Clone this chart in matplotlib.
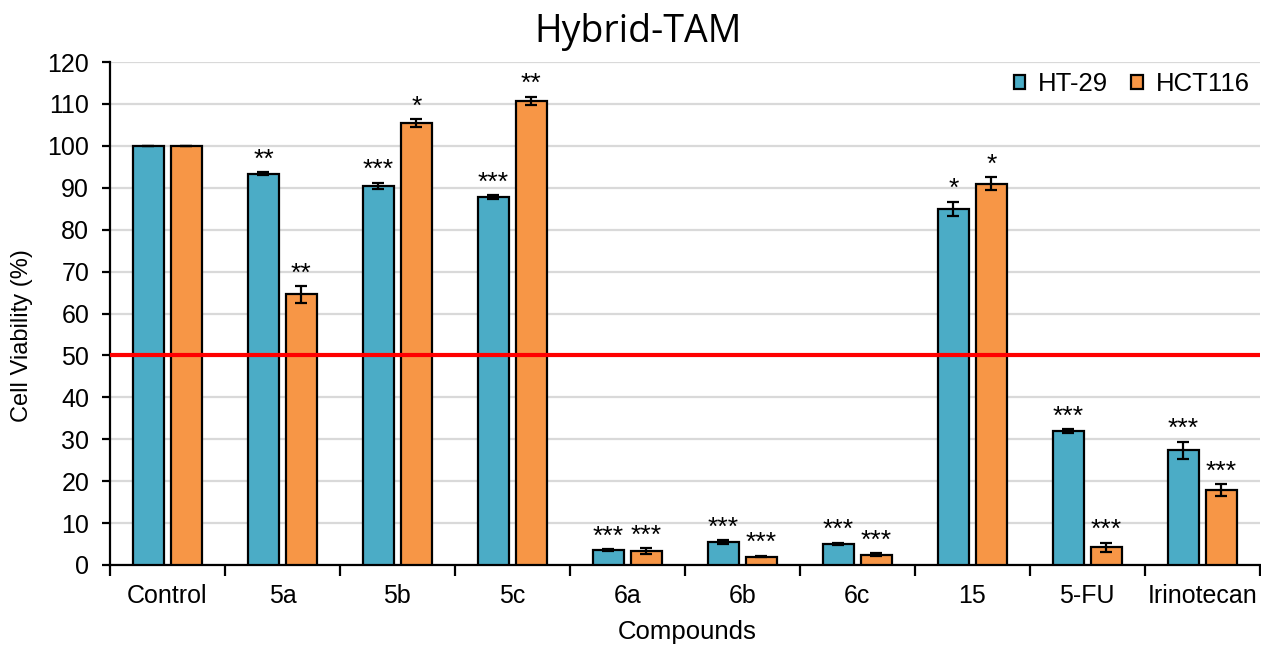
import matplotlib
matplotlib.use("Agg")
import matplotlib.pyplot as plt
import numpy as np

categories = ["Control", "5a", "5b", "5c", "6a", "6b", "6c", "15", "5-FU", "Irinotecan"]
ht29 = [100.0, 93.4, 90.5, 87.7, 3.6, 5.5, 5.0, 85.0, 31.9, 27.4]
ht29_err = [0.0, 0.3, 0.7, 0.5, 0.2, 0.4, 0.3, 1.7, 0.5, 2.0]
hct116 = [100.0, 64.6, 105.5, 110.7, 3.3, 2.0, 2.5, 91.0, 4.2, 17.9]
hct116_err = [0.0, 2.0, 0.9, 1.0, 0.7, 0.2, 0.3, 1.5, 1.1, 1.4]
ht29_sig = ["", "**", "***", "***", "***", "***", "***", "*", "***", "***"]
hct116_sig = ["", "**", "*", "**", "***", "***", "***", "*", "***", "***"]
threshold = 50

plt.rcParams['font.family'] = ['Liberation Sans', 'DejaVu Sans']

fig = plt.figure(figsize=(12.61, 6.46), dpi=100)
ax = fig.add_axes([0.0872, 0.1254, 0.9118, 0.7786])

x = np.arange(len(categories))
w = 0.27
off = 0.165
c1 = "#4BACC6"
c2 = "#F79646"
ekw = dict(elinewidth=1.6, capthick=1.6, ecolor="black")
ax.bar(x - off, ht29, w, color=c1, edgecolor="black", linewidth=1.6,
       yerr=ht29_err, capsize=4.5, error_kw=ekw, label="HT-29", zorder=3)
ax.bar(x + off, hct116, w, color=c2, edgecolor="black", linewidth=1.6,
       yerr=hct116_err, capsize=4.5, error_kw=ekw, label="HCT116", zorder=3)

for i in range(len(categories)):
    if ht29_sig[i]:
        ax.text(x[i] - off, ht29[i] + ht29_err[i] + 1.3, ht29_sig[i],
                ha="center", va="baseline", fontsize=19)
    if hct116_sig[i]:
        ax.text(x[i] + off, hct116[i] + hct116_err[i] + 1.3, hct116_sig[i],
                ha="center", va="baseline", fontsize=19)

ax.axhline(threshold, color="#FF0000", linewidth=3.0, zorder=4)

ax.set_xlim(-0.5, len(categories) - 0.5)
ax.set_ylim(0, 120)
ax.set_yticks(np.arange(0, 121, 10))
ax.yaxis.grid(True, color="#D9D9D9", linewidth=1.6, zorder=0)
ax.set_axisbelow(True)

ax.set_xticks(x)
ax.set_xticklabels(categories, fontsize=18)
ax.tick_params(axis="x", length=0, pad=14)
ax.set_xticks(np.arange(-0.5, len(categories), 1), minor=True)
ax.tick_params(axis="x", which="minor", length=8, width=1.6, direction="out")
ax.tick_params(axis="y", labelsize=18, length=6, width=1.6, direction="out", pad=9)

for s in ["top", "right"]:
    ax.spines[s].set_visible(False)
ax.spines["left"].set_linewidth(1.6)
ax.spines["bottom"].set_linewidth(1.6)

xl = ax.set_xlabel("Compounds", fontsize=18.5)
xl.set_va("center")
ax.xaxis.set_label_coords(0.502, -0.133)
yl = ax.set_ylabel("Cell Viability (%)", fontsize=17)
yl.set_va("center")
ax.yaxis.set_label_coords(-0.0765, 0.457)
fig.text(0.506, 0.95, "Hybrid-TAM", fontsize=27, ha="center", va="center",
         family=["Open Sans", "DejaVu Sans"])

leg = ax.legend(loc="center right", bbox_to_anchor=(0.991, 0.87),
                bbox_transform=fig.transFigure, frameon=False,
                fontsize=18.5, ncol=2, handlelength=0.45, handleheight=0.45,
                handletextpad=0.5, columnspacing=0.9, borderaxespad=0, borderpad=0)

fig.savefig("out.png", dpi=100)
